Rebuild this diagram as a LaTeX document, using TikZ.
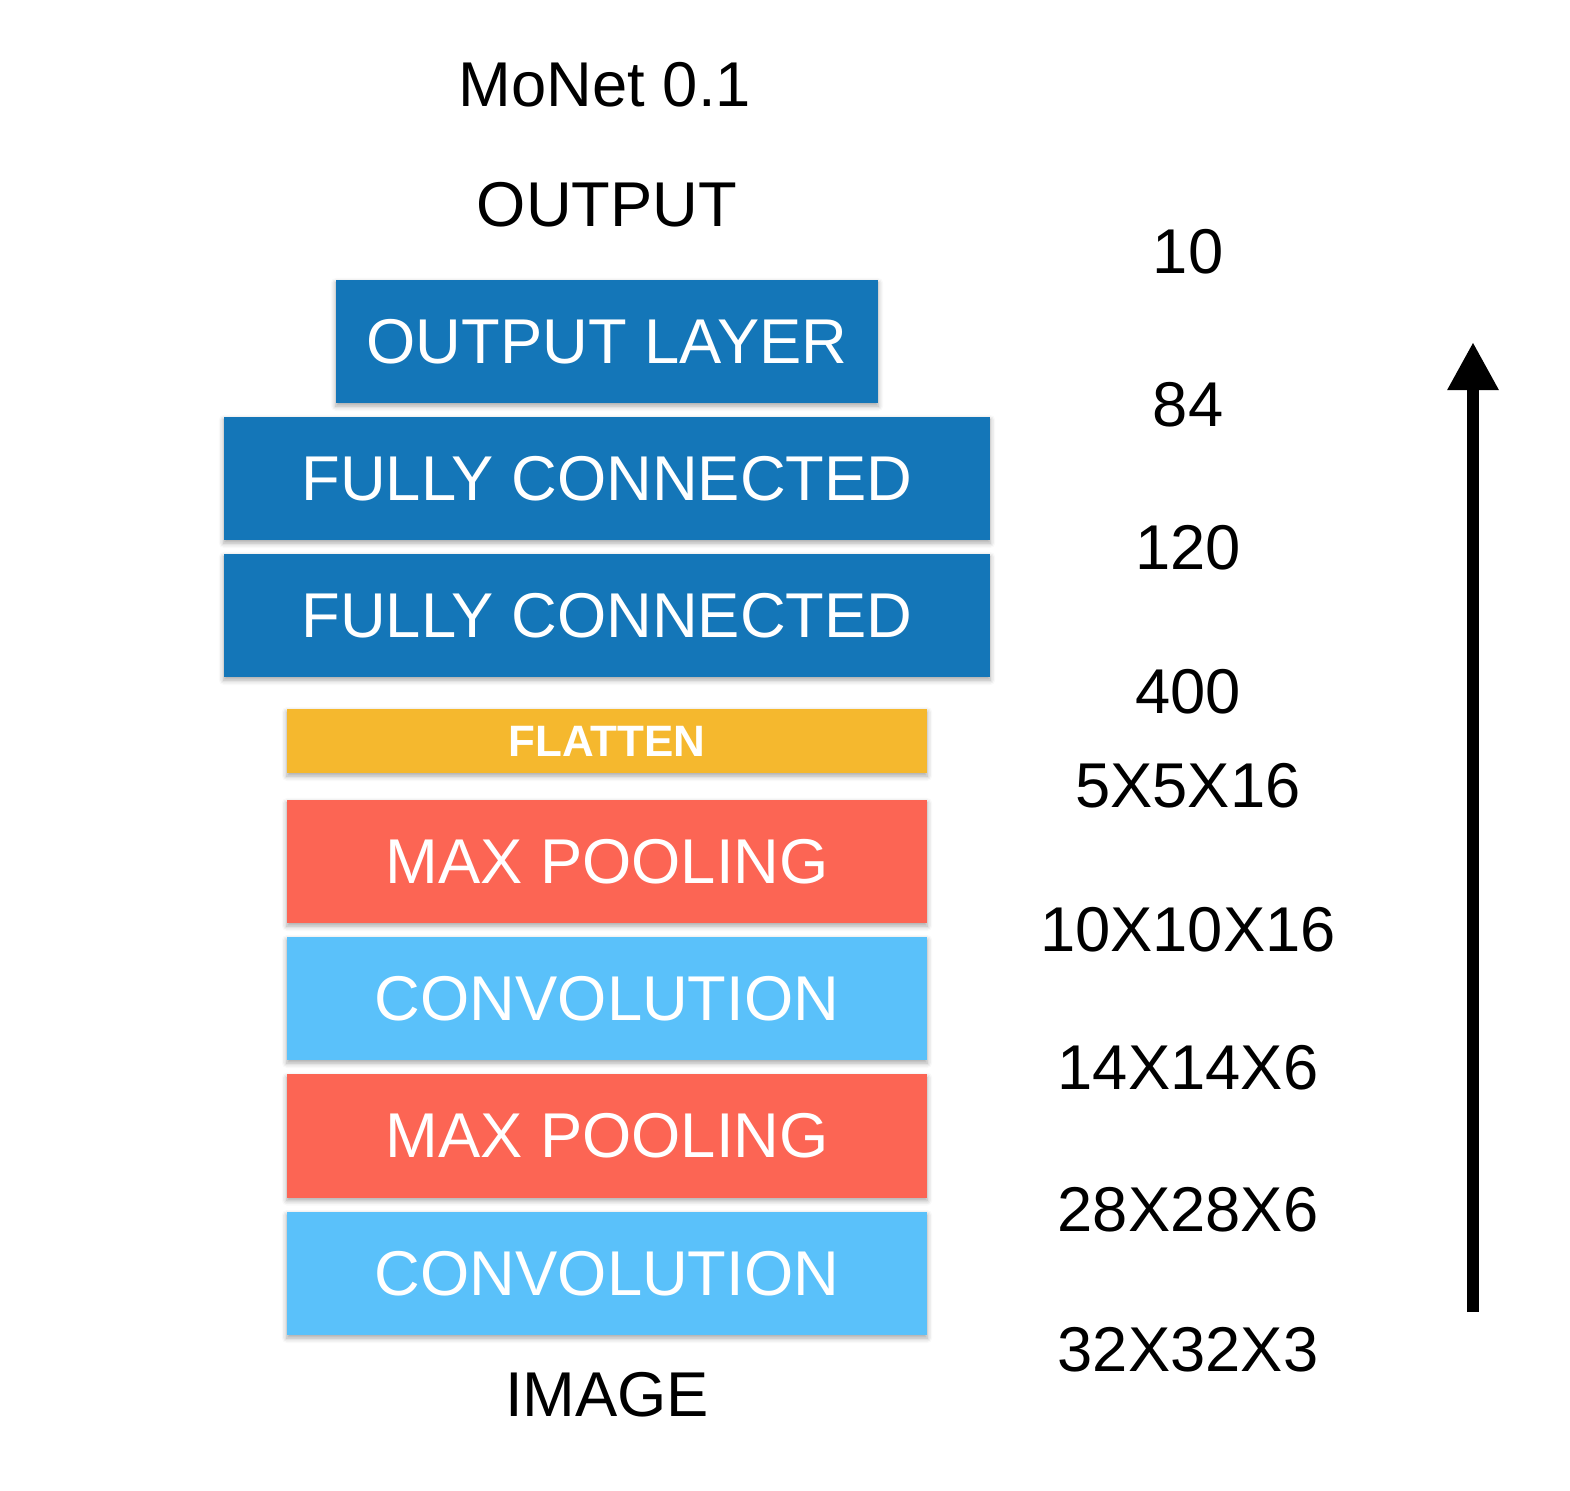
\documentclass[tikz,border=0pt]{standalone}
\usepackage{fontspec}
\setmainfont{Liberation Sans}
\usepackage{tikz}
\usetikzlibrary{arrows.meta,positioning,shadows.blur}

\definecolor{fcblue}{RGB}{20,118,184}
\definecolor{convblue}{RGB}{90,193,250}
\definecolor{poolred}{RGB}{252,101,84}
\definecolor{flatyellow}{RGB}{245,184,46}

\tikzset{
  layer/.style={draw=none, text=white, font=\fontsize{18}{20}\selectfont,
    minimum width=6.4cm, minimum height=1.23cm, inner sep=0pt,
    blur shadow={shadow xshift=0pt, shadow yshift=-0.03cm,
      shadow blur radius=0.05cm, shadow opacity=35}},
  label/.style={font=\fontsize{18}{20}\selectfont, inner sep=0pt}
}

\begin{document}
\begin{tikzpicture}[x=0.01cm, y=-0.01cm, >=stealth]

\useasboundingbox (0,0) rectangle (1570,1490);

% network layers, bottom to top
\node [layer, fill=convblue] (conv-1) at (607,1273.5) {CONVOLUTION};
\node [layer, fill=poolred] (pool-1) at (607,1136) {MAX POOLING};
\node [layer, fill=convblue] (conv-2) at (607,998.5) {CONVOLUTION};
\node [layer, fill=poolred] (pool-2) at (607,861.5) {MAX POOLING};
\node [layer, fill=flatyellow, minimum height=0.64cm,
  font=\fontsize{12.5}{14}\selectfont\bfseries] (flatten) at (607,741) {FLATTEN};
\node [layer, fill=fcblue, minimum width=7.66cm] (fc-2) at (607,615.5) {FULLY CONNECTED};
\node [layer, fill=fcblue, minimum width=7.66cm] (fc-1) at (607,478.5) {FULLY CONNECTED};
\node [layer, fill=fcblue, minimum width=5.42cm] (outlayer) at (607,341.5) {OUTPUT LAYER};

\node [label] (title) at (605,85) {MoNet 0.1};
\node [label] (output) at (607,205) {OUTPUT};
\node [label] (image) at (607,1395) {IMAGE};

% sizes between the layers
\foreach \s/\h [count=\i] in {10/252,84/405,120/548,400/692,5X5X16/786,
    10X10X16/930,14X14X6/1068,28X28X6/1210,32X32X3/1350}
  \node [label] (size-\i) at (1188,\h) {\s};

% direction of flow
\coordinate (flow-start) at (1473,1312);
\coordinate (flow-end) at (1473,342);
\draw [line width=0.12cm, -{Triangle[length=0.48cm,width=0.48cm]}] (flow-start) -- (flow-end);

\end{tikzpicture}
\end{document}
